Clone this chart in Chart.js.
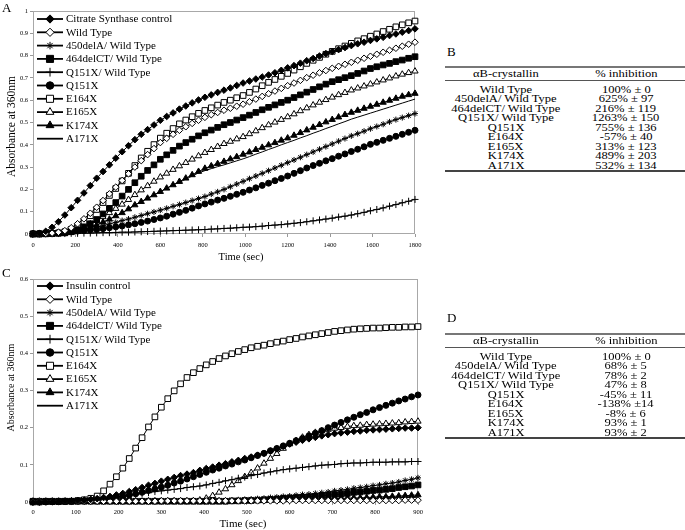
<!DOCTYPE html>
<html>
<head>
<meta charset="utf-8">
<script src="https://cdn.jsdelivr.net/npm/chart.js@4.4.1/dist/chart.umd.min.js"></script>
<style>
  body { margin: 0; width: 685px; height: 530px; position: relative; background: #fff; overflow: hidden;
         font-family: "Liberation Serif", "Times New Roman", serif; color: #000; }
  canvas { position: absolute; left: 0; }
  #chartA { top: 0; }
  #chartC { top: 255px; }
  .panel { position: absolute; font-size: 13px; line-height: 13px; }
  table.t { position: absolute; left: 445px; width: 240px; border-collapse: collapse; font-size: 11px; line-height: 9.5px;
            border-top: 2px solid #777; border-bottom: 2px solid #444; }
  .t th { font-weight: normal; height: 12px; padding: 0; border-bottom: 1px solid #555; }
  .t td { padding: 0; height: 9.5px; text-align: center; white-space: nowrap; }
  .t span { display: inline-block; transform: scaleX(1.14); }
  .t tr.first td { padding-top: 3.5px; }
</style>
</head>
<body>
<canvas id="chartA" width="430" height="265"></canvas>
<canvas id="chartC" width="430" height="275"></canvas>
<div class="panel" style="left:2px;top:1px">A</div>
<div class="panel" style="left:447px;top:45px">B</div>
<div class="panel" style="left:2px;top:266px">C</div>
<div class="panel" style="left:447px;top:311px">D</div>
<table class="t" id="tableB" style="top:66px"></table>
<table class="t" id="tableD" style="top:333px"></table>
<script>
// ---- panel A: citrate synthase, time every 30 s
const timesA = [0,
  30,60,90,120,150,180,210,240,270,300,
  330,360,390,420,450,480,510,540,570,600,
  630,660,690,720,750,780,810,840,870,900,
  930,960,990,1020,1050,1080,1110,1140,1170,1200,
  1230,1260,1290,1320,1350,1380,1410,1440,1470,1500,
  1530,1560,1590,1620,1650,1680,1710,1740,1770,1800];
const csControlA = [0,
  0.003,0.012,0.03,0.055,0.085,0.118,0.151,0.184,0.217,0.25,
  0.28,0.31,0.34,0.369,0.396,0.423,0.447,0.468,0.489,0.51,
  0.527,0.543,0.56,0.574,0.588,0.601,0.613,0.624,0.635,0.645,
  0.655,0.666,0.677,0.686,0.695,0.704,0.713,0.723,0.734,0.745,
  0.755,0.766,0.777,0.787,0.798,0.809,0.818,0.827,0.836,0.845,
  0.853,0.86,0.868,0.875,0.882,0.89,0.897,0.905,0.912,0.92];
const wildTypeA = [0,
  0.001,0.002,0.004,0.008,0.015,0.028,0.046,0.068,0.093,0.12,
  0.15,0.18,0.21,0.24,0.27,0.30,0.329,0.356,0.383,0.41,
  0.429,0.447,0.465,0.481,0.496,0.51,0.523,0.535,0.545,0.555,
  0.564,0.573,0.582,0.593,0.605,0.617,0.629,0.641,0.653,0.665,
  0.677,0.689,0.701,0.712,0.723,0.733,0.743,0.752,0.761,0.77,
  0.779,0.788,0.797,0.806,0.815,0.824,0.833,0.842,0.851,0.86];
const del450A = [0.003,
  0.004,0.005,0.006,0.008,0.01,0.013,0.016,0.021,0.025,0.03,
  0.037,0.045,0.052,0.06,0.067,0.075,0.083,0.091,0.099,0.107,
  0.115,0.124,0.132,0.141,0.15,0.159,0.168,0.179,0.189,0.2,
  0.212,0.224,0.236,0.248,0.26,0.272,0.284,0.296,0.308,0.32,
  0.332,0.344,0.356,0.368,0.38,0.392,0.404,0.416,0.428,0.44,
  0.45,0.461,0.472,0.482,0.492,0.503,0.513,0.522,0.531,0.54];
const del464A = [0,
  0,0.001,0.002,0.003,0.005,0.01,0.019,0.031,0.046,0.065,
  0.09,0.115,0.141,0.17,0.2,0.23,0.259,0.285,0.31,0.335,
  0.355,0.375,0.394,0.41,0.425,0.44,0.454,0.466,0.478,0.49,
  0.5,0.511,0.522,0.533,0.545,0.557,0.568,0.579,0.59,0.6,
  0.612,0.624,0.636,0.648,0.66,0.672,0.683,0.692,0.701,0.71,
  0.72,0.731,0.742,0.75,0.758,0.765,0.773,0.78,0.788,0.795];
const q151WtA = [0,
  0,0.001,0.001,0.002,0.002,0.003,0.003,0.004,0.004,0.005,
  0.006,0.006,0.007,0.008,0.008,0.009,0.01,0.011,0.012,0.013,
  0.014,0.015,0.016,0.017,0.018,0.019,0.02,0.022,0.023,0.025,
  0.026,0.028,0.03,0.031,0.033,0.035,0.038,0.04,0.042,0.045,
  0.048,0.051,0.055,0.059,0.063,0.067,0.071,0.076,0.08,0.085,
  0.091,0.097,0.104,0.11,0.117,0.125,0.132,0.14,0.147,0.155];
const q151A = [0.002,
  0.003,0.004,0.005,0.006,0.008,0.011,0.013,0.015,0.018,0.02,
  0.024,0.028,0.032,0.036,0.041,0.046,0.052,0.058,0.065,0.072,
  0.08,0.089,0.097,0.106,0.116,0.126,0.135,0.143,0.152,0.16,
  0.169,0.178,0.187,0.197,0.207,0.218,0.228,0.239,0.249,0.26,
  0.272,0.284,0.296,0.307,0.317,0.328,0.338,0.349,0.359,0.37,
  0.38,0.391,0.402,0.411,0.42,0.429,0.438,0.447,0.456,0.465];
const e164A = [0,
  0,0.001,0.002,0.005,0.01,0.021,0.036,0.057,0.082,0.11,
  0.141,0.173,0.204,0.238,0.272,0.307,0.341,0.371,0.401,0.43,
  0.452,0.473,0.494,0.511,0.526,0.541,0.554,0.566,0.578,0.59,
  0.6,0.611,0.621,0.635,0.65,0.665,0.68,0.693,0.707,0.72,
  0.735,0.75,0.765,0.779,0.792,0.806,0.819,0.831,0.843,0.855,
  0.866,0.876,0.887,0.897,0.908,0.918,0.929,0.938,0.947,0.955];
const e165A = [0,
  0,0.001,0.001,0.002,0.004,0.009,0.018,0.03,0.045,0.06,
  0.077,0.095,0.114,0.133,0.154,0.176,0.197,0.216,0.236,0.255,
  0.272,0.289,0.305,0.32,0.335,0.35,0.365,0.378,0.392,0.405,
  0.415,0.426,0.436,0.449,0.462,0.476,0.489,0.501,0.513,0.525,
  0.538,0.552,0.565,0.578,0.59,0.602,0.613,0.624,0.634,0.645,
  0.654,0.663,0.672,0.681,0.69,0.699,0.708,0.716,0.723,0.73];
const k174A = [0,
  0,0,0.001,0.002,0.003,0.006,0.012,0.021,0.03,0.04,
  0.053,0.066,0.081,0.095,0.112,0.13,0.145,0.16,0.175,0.19,
  0.205,0.22,0.235,0.25,0.265,0.28,0.294,0.305,0.315,0.325,
  0.336,0.346,0.357,0.367,0.378,0.388,0.399,0.409,0.42,0.43,
  0.442,0.454,0.466,0.478,0.49,0.502,0.513,0.524,0.535,0.545,
  0.554,0.563,0.572,0.581,0.59,0.599,0.608,0.617,0.624,0.63];
const a171A = [0,
  0,0,0.001,0.002,0.003,0.006,0.012,0.021,0.03,0.04,
  0.053,0.066,0.081,0.095,0.112,0.13,0.145,0.16,0.175,0.19,
  0.205,0.22,0.232,0.246,0.26,0.274,0.284,0.293,0.302,0.31,
  0.319,0.328,0.337,0.347,0.358,0.368,0.379,0.389,0.4,0.41,
  0.42,0.431,0.441,0.452,0.462,0.473,0.483,0.494,0.504,0.515,
  0.524,0.533,0.542,0.551,0.56,0.569,0.578,0.587,0.596,0.605];

// ---- panel C: insulin, time every 15 s
const timesC = [0,
  15,30,45,60,75,90,105,120,135,150,
  165,180,195,210,225,240,255,270,285,300,
  315,330,345,360,375,390,405,420,435,450,
  465,480,495,510,525,540,555,570,585,600,
  615,630,645,660,675,690,705,720,735,750,
  765,780,795,810,825,840,855,870,885,900];
const insulinC = [0,
  0,0.001,0.001,0.002,0.002,0.003,0.004,0.005,0.007,0.009,
  0.012,0.015,0.019,0.023,0.028,0.033,0.039,0.045,0.05,0.056,
  0.061,0.066,0.071,0.075,0.079,0.085,0.09,0.094,0.099,0.103,
  0.108,0.112,0.117,0.121,0.126,0.131,0.137,0.143,0.15,0.156,
  0.161,0.166,0.17,0.174,0.178,0.181,0.184,0.186,0.188,0.19,
  0.191,0.193,0.194,0.195,0.196,0.197,0.198,0.199,0.199,0.2];
const wildTypeC = [0.002,
  0.002,0.002,0.002,0.002,0.002,0.002,0.002,0.002,0.002,0.002,
  0.002,0.002,0.002,0.002,0.002,0.002,0.002,0.002,0.002,0.003,
  0.003,0.003,0.003,0.003,0.003,0.003,0.003,0.003,0.003,0.003,
  0.003,0.003,0.003,0.003,0.003,0.003,0.003,0.003,0.003,0.004,
  0.004,0.004,0.004,0.004,0.004,0.004,0.004,0.004,0.004,0.004,
  0.004,0.004,0.004,0.004,0.004,0.004,0.004,0.005,0.005,0.005];
const del450C = [0.002,
  0.002,0.002,0.002,0.002,0.002,0.002,0.002,0.002,0.002,0.002,
  0.002,0.002,0.002,0.002,0.002,0.002,0.002,0.002,0.002,0.002,
  0.002,0.002,0.002,0.002,0.002,0.002,0.003,0.003,0.004,0.004,
  0.005,0.006,0.007,0.008,0.009,0.01,0.012,0.013,0.015,0.016,
  0.018,0.02,0.021,0.023,0.025,0.027,0.03,0.032,0.034,0.037,
  0.039,0.041,0.044,0.046,0.049,0.051,0.054,0.058,0.061,0.065];
const del464C = [0.002,
  0.002,0.002,0.002,0.002,0.002,0.002,0.002,0.002,0.002,0.002,
  0.002,0.002,0.002,0.002,0.002,0.002,0.002,0.002,0.002,0.002,
  0.002,0.002,0.002,0.002,0.002,0.002,0.002,0.002,0.002,0.002,
  0.003,0.003,0.004,0.004,0.005,0.006,0.007,0.008,0.01,0.011,
  0.012,0.013,0.014,0.015,0.017,0.018,0.02,0.021,0.023,0.026,
  0.027,0.029,0.031,0.032,0.034,0.036,0.039,0.041,0.043,0.046];
const q151WtC = [0,
  0,0.001,0.001,0.001,0.002,0.002,0.003,0.005,0.006,0.008,
  0.01,0.012,0.014,0.016,0.018,0.021,0.023,0.025,0.028,0.03,
  0.032,0.034,0.036,0.039,0.041,0.043,0.046,0.05,0.053,0.057,
  0.06,0.064,0.067,0.071,0.074,0.078,0.081,0.084,0.087,0.089,
  0.091,0.093,0.095,0.097,0.099,0.1,0.101,0.103,0.104,0.105,
  0.105,0.106,0.107,0.107,0.107,0.108,0.108,0.108,0.109,0.109];
const q151C = [0,
  0,0,0.001,0.001,0.001,0.002,0.002,0.003,0.005,0.006,
  0.008,0.01,0.012,0.015,0.018,0.022,0.026,0.031,0.035,0.04,
  0.045,0.051,0.056,0.062,0.068,0.074,0.08,0.086,0.091,0.097,
  0.102,0.108,0.113,0.119,0.125,0.131,0.138,0.144,0.151,0.158,
  0.165,0.171,0.178,0.185,0.192,0.2,0.207,0.214,0.221,0.228,
  0.235,0.241,0.248,0.254,0.26,0.266,0.272,0.277,0.283,0.288];
const e164C = [0,
  0,0.001,0.001,0.001,0.002,0.002,0.004,0.006,0.01,0.016,
  0.03,0.048,0.068,0.091,0.117,0.145,0.173,0.202,0.229,0.255,
  0.278,0.299,0.318,0.335,0.348,0.359,0.369,0.378,0.386,0.393,
  0.399,0.405,0.41,0.415,0.419,0.422,0.426,0.43,0.433,0.437,
  0.44,0.444,0.447,0.45,0.453,0.456,0.459,0.461,0.463,0.465,
  0.466,0.467,0.468,0.468,0.469,0.47,0.47,0.471,0.471,0.472];
const e165C = [0.001,
  0.001,0.001,0.001,0.001,0.001,0.001,0.001,0.001,0.001,0.001,
  0.001,0.001,0.001,0.001,0.001,0.001,0.001,0.002,0.002,0.002,
  0.002,0.002,0.002,0.002,0.003,0.005,0.01,0.017,0.026,0.035,
  0.046,0.057,0.068,0.079,0.091,0.104,0.117,0.13,0.144,0.156,
  0.165,0.174,0.181,0.187,0.191,0.195,0.198,0.2,0.203,0.205,
  0.206,0.208,0.209,0.21,0.211,0.212,0.213,0.215,0.216,0.217];
const k174C = [0.002,
  0.002,0.002,0.002,0.002,0.002,0.002,0.002,0.002,0.002,0.002,
  0.002,0.002,0.002,0.002,0.002,0.002,0.002,0.002,0.002,0.002,
  0.002,0.002,0.002,0.002,0.002,0.002,0.002,0.002,0.002,0.002,
  0.002,0.003,0.003,0.003,0.004,0.004,0.004,0.005,0.005,0.006,
  0.006,0.007,0.007,0.008,0.008,0.009,0.009,0.01,0.01,0.011,
  0.011,0.012,0.013,0.014,0.014,0.015,0.016,0.017,0.018,0.019];
const a171C = [0.002,
  0.002,0.002,0.002,0.002,0.002,0.002,0.002,0.002,0.002,0.002,
  0.002,0.002,0.002,0.002,0.002,0.002,0.002,0.002,0.002,0.002,
  0.002,0.002,0.002,0.002,0.002,0.002,0.002,0.002,0.002,0.002,
  0.002,0.002,0.002,0.002,0.003,0.003,0.003,0.003,0.004,0.004,
  0.004,0.005,0.005,0.005,0.006,0.006,0.007,0.007,0.007,0.008,
  0.008,0.009,0.009,0.01,0.01,0.011,0.011,0.012,0.012,0.013];

// ---- ticks
const xTicksA = [0,200,400,600,800,1000,1200,1400,1600,1800];
const yTicksA = [0,0.1,0.2,0.3,0.4,0.5,0.6,0.7,0.8,0.9,1];
const xTicksC = [0,100,200,300,400,500,600,700,800,900];
const yTicksC = [0,0.1,0.2,0.3,0.4,0.5,0.6];

// ---- legend names and tables
const namesA = ['Citrate Synthase control','Wild Type','450delA/ Wild Type','464delCT/ Wild Type','Q151X/ Wild Type','Q151X','E164X','E165X','K174X','A171X'];
const namesC = ['Insulin control','Wild Type','450delA/ Wild Type','464delCT/ Wild Type','Q151X/ Wild Type','Q151X','E164X','E165X','K174X','A171X'];
const tableRows = ['Wild Type','450delA/ Wild Type','464delCT/ Wild Type','Q151X/ Wild Type','Q151X','E164X','E165X','K174X','A171X'];
const inhibitionB = ['100% \u00b1 0','625% \u00b1 97','216% \u00b1 119','1263% \u00b1 150','755% \u00b1 136','-57% \u00b1 40','313% \u00b1 123','489% \u00b1 203','532% \u00b1 134'];
const inhibitionD = ['100% \u00b1 0','68% \u00b1 5','78% \u00b1 2','47% \u00b1 8','-45% \u00b1 11','-138% \u00b114','-8% \u00b1 6','93% \u00b1 1','93% \u00b1 2'];

// marker look for each series (same order in both panels)
const markers = [
  { style: 'rectRot', r: 3.3, fill: '#000' },
  { style: 'rectRot', r: 3.3, fill: '#fff' },
  { style: 'star', r: 3, fill: '#000' },
  { style: 'rect', r: 4, fill: '#000' },
  { style: 'cross', r: 3.5, fill: '#000' },
  { style: 'circle', r: 3, fill: '#000' },
  { style: 'rect', r: 4, fill: '#fff' },
  { style: 'triangle', r: 3.6, fill: '#fff' },
  { style: 'triangle', r: 3.6, fill: '#000' },
  { style: 'circle', r: 0, fill: '#000' }
];

function buildTable(id, values) {
  let html = '<colgroup><col style="width:122px"><col style="width:118px"></colgroup>' +
    '<tr><th><span>\u03b1B-crystallin</span></th><th><span>% inhibition</span></th></tr>';
  tableRows.forEach((n, i) => {
    html += '<tr' + (i === 0 ? ' class="first"' : '') + '><td><span>' + n + '</span></td><td><span>' + values[i] + '</span></td></tr>';
  });
  document.getElementById(id).innerHTML = html;
}
buildTable('tableB', inhibitionB);
buildTable('tableD', inhibitionD);

Chart.defaults.font.family = '"Liberation Serif", "Times New Roman", serif';
Chart.defaults.color = '#000';

const framePlugin = {
  id: 'frame',
  beforeDatasetsDraw(chart) {
    const { ctx, chartArea: a } = chart;
    ctx.save();
    ctx.strokeStyle = '#a8a8a8';
    ctx.lineWidth = 1;
    ctx.strokeRect(a.left + 0.5, a.top + 0.5, a.width - 1, a.height - 1);
    ctx.restore();
  }
};

// axis titles placed by hand (the originals sit off-centre)
const titlePlugin = {
  id: 'axisTitles',
  afterDraw(chart, args, o) {
    const ctx = chart.ctx;
    ctx.save();
    ctx.fillStyle = '#000';
    ctx.textAlign = 'center';
    ctx.textBaseline = 'middle';
    ctx.font = o.xSize + 'px "Liberation Serif"';
    ctx.fillText('Time (sec)', o.xX, o.xY);
    ctx.translate(o.yX, o.yY);
    ctx.rotate(-Math.PI / 2);
    ctx.font = o.ySize + 'px "Liberation Serif"';
    ctx.fillText('Absorbance at 360nm', 0, 0);
    ctx.restore();
  }
};

const legendPlugin = {
  id: 'lineLegend',
  afterDatasetsDraw(chart, args, opts) {
    const ctx = chart.ctx;
    ctx.save();
    ctx.font = '11px "Liberation Serif"';
    ctx.textBaseline = 'middle';
    chart.data.datasets.forEach((ds, i) => {
      const y = opts.top + i * opts.step;
      ctx.strokeStyle = '#000';
      ctx.lineWidth = 1.8;
      ctx.beginPath();
      ctx.moveTo(opts.x1, y);
      ctx.lineTo(opts.x2, y);
      ctx.stroke();
      const m = markers[i];
      if (m.r > 0) {
        ctx.fillStyle = m.fill;
        ctx.lineWidth = 1;
        Chart.helpers.drawPoint(ctx, { pointStyle: m.style, radius: m.r * 1.25, borderWidth: 1, rotation: 0 }, (opts.x1 + opts.x2) / 2, y);
      }
      ctx.fillStyle = '#000';
      ctx.fillText(ds.label, opts.textX, y + 0.5);
    });
    ctx.restore();
  }
};

function makeDatasets(names, series) {
  return names.map((n, i) => ({
    label: n,
    data: series[i],
    borderColor: '#000',
    borderWidth: 1,
    pointStyle: markers[i].style,
    pointRadius: markers[i].r,
    pointHoverRadius: markers[i].r,
    pointBackgroundColor: markers[i].fill,
    pointBorderColor: '#000',
    pointBorderWidth: 1,
    tension: 0,
    clip: false
  }));
}

function makeChart(el, cfg) {
  return new Chart(el, {
    type: 'line',
    data: { labels: cfg.times, datasets: makeDatasets(cfg.names, cfg.series) },
    options: {
      responsive: false,
      animation: false,
      events: [],
      layout: { padding: cfg.padding },
      plugins: {
        legend: { display: false },
        tooltip: { enabled: false },
        lineLegend: cfg.legend,
        axisTitles: cfg.titles
      },
      scales: {
        x: {
          type: 'linear', min: 0, max: cfg.xMax,
          afterBuildTicks: s => { s.ticks = cfg.xTicks.map(v => ({ value: v })); },
          afterFit: s => { s.height = cfg.xHeight; },
          ticks: { font: { size: 6.5 }, padding: cfg.xTickPad, maxRotation: 0, autoSkip: false, callback: v => String(v) },
          grid: { drawOnChartArea: false, tickLength: 3, color: '#999' },
          border: { display: false },
          title: { display: false }
        },
        y: {
          min: 0, max: cfg.yMax,
          afterBuildTicks: s => { s.ticks = cfg.yTicks.map(v => ({ value: v })); },
          afterFit: s => { s.width = 33; },
          ticks: { font: { size: 6.5 }, padding: 2, autoSkip: false, callback: v => String(+v.toFixed(1)) },
          grid: { drawOnChartArea: false, tickLength: 3, color: '#999' },
          border: { display: false },
          title: { display: false }
        }
      }
    },
    plugins: [framePlugin, legendPlugin, titlePlugin]
  });
}

makeChart(document.getElementById('chartA'), {
  times: timesA, names: namesA,
  series: [csControlA, wildTypeA, del450A, del464A, q151WtA, q151A, e164A, e165A, k174A, a171A],
  xMax: 1800, yMax: 1, xTicks: xTicksA, yTicks: yTicksA,
  padding: { top: 11, right: 15, left: 0, bottom: 0 },
  xHeight: 31, xTickPad: 4,
  titles: { xX: 241, xY: 257, xSize: 10.5, yX: 12, yY: 126.5, ySize: 11.5 },
  legend: { x1: 37, x2: 63, textX: 66, top: 19, step: 13.3 }
});

makeChart(document.getElementById('chartC'), {
  times: timesC, names: namesC,
  series: [insulinC, wildTypeC, del450C, del464C, q151WtC, q151C, e164C, e165C, k174C, a171C],
  xMax: 900, yMax: 0.6, xTicks: xTicksC, yTicks: yTicksC,
  padding: { top: 24, right: 12, left: 0, bottom: 0 },
  xHeight: 28, xTickPad: 3,
  titles: { xX: 243, xY: 269.5, xSize: 11, yX: 11, yY: 132.5, ySize: 10 },
  legend: { x1: 37, x2: 63, textX: 66, top: 31, step: 13.3 }
});
</script>
</body>
</html>
